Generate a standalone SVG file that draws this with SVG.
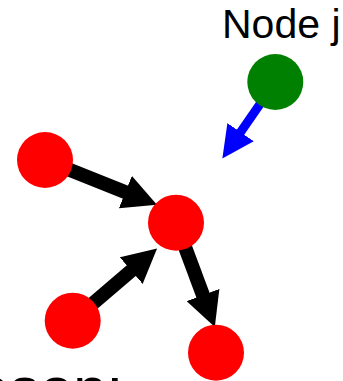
<svg xmlns="http://www.w3.org/2000/svg" width="343" height="381" viewBox="0 0 343 381">
  <style>
    .node-red { fill: #ff0000; }
    .node-green { fill: #008000; }
    .edge { stroke: #000000; stroke-width: 14; fill: none; }
    .edge-blue { stroke: #0000ff; stroke-width: 9; fill: none; }
    .label { font-family: "Liberation Sans", Arial, sans-serif; fill: #000000; }
  </style>
  <defs>
    <marker id="headBlack" viewBox="0 -17.5 34 35" markerWidth="34" markerHeight="35" refX="1" refY="0" markerUnits="userSpaceOnUse" orient="auto">
      <path d="M0,-17.5 L34,0 L0,17.5 z" fill="#000000"/>
    </marker>
    <marker id="headBlue" viewBox="0 -16 32 32" markerWidth="32" markerHeight="32" refX="1" refY="0" markerUnits="userSpaceOnUse" orient="auto">
      <path d="M0,-16 L32,0 L0,16 z" fill="#0000ff"/>
    </marker>
  </defs>
  <rect width="343" height="381" fill="#ffffff"/>
  <g id="connectors">
    <line class="edge" x1="45" y1="160" x2="126.3" y2="192.5" marker-end="url(#headBlack)"/>
    <line class="edge" x1="72.7" y1="320.7" x2="132" y2="270" marker-end="url(#headBlack)"/>
    <line class="edge" x1="176" y1="222.7" x2="203.3" y2="296" marker-end="url(#headBlack)"/>
    <line class="edge-blue" x1="275.3" y1="82" x2="240" y2="133" marker-end="url(#headBlue)"/>
  </g>
  <g id="node-a"><circle class="node-red" cx="45" cy="160" r="28"/></g>
  <g id="node-center"><circle class="node-red" cx="176" cy="222.7" r="28"/></g>
  <g id="node-b"><circle class="node-red" cx="72.7" cy="320.7" r="28"/></g>
  <g id="node-c"><circle class="node-red" cx="216" cy="352.7" r="28"/></g>
  <g id="node-j">
    <circle class="node-green" cx="275.3" cy="82" r="28"/>
    <text class="label" x="222" y="38.3" font-size="41">Node j</text>
  </g>
  <g id="caption">
    <text class="label" x="-100.3" y="409" font-size="60">Reason:</text>
  </g>
</svg>
